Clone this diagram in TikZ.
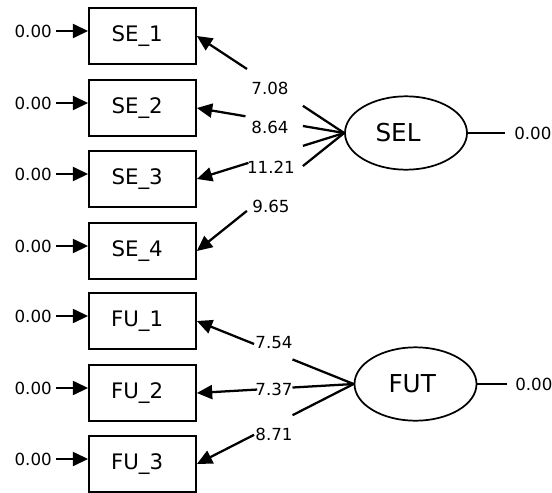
\documentclass[tikz,border=0pt]{standalone}
\usepackage{fontspec}
\setmainfont{DejaVu Sans}
\usetikzlibrary{arrows.meta,shapes.geometric,calc}
\begin{document}
\begin{tikzpicture}[x=0.75pt,y=-0.75pt,
  obs/.style={draw,line width=1.3pt,minimum width=80.25pt,minimum height=42pt,inner sep=0pt,font=\fontsize{16}{18}\selectfont},
  lat/.style={draw,ellipse,line width=1.3pt,minimum width=91.5pt,minimum height=55pt,inner sep=0pt,font=\fontsize{18.5}{21}\selectfont},
  num/.style={inner sep=0pt,font=\fontsize{12.5}{15}\selectfont},
  link/.style={line width=1.7pt},
  arr/.style={link,-{Triangle[length=11.5pt,width=10.5pt]}}]
\useasboundingbox (0,0) rectangle (552,492);
% observed variables
\node[obs] (SE_1) at (142.5,36) {SE\_1\kern8pt};
\node[obs] (SE_2) at (142.5,108) {SE\_2\kern8pt};
\node[obs] (SE_3) at (142.5,179) {SE\_3\kern8pt};
\node[obs] (SE_4) at (142.5,251) {SE\_4\kern8pt};
\node[obs] (FU_1) at (142.5,321) {FU\_1\kern8pt};
\node[obs] (FU_2) at (142.5,393) {FU\_2\kern8pt};
\node[obs] (FU_3) at (142.5,464) {FU\_3\kern8pt};
% latent variables
\node[lat] (SEL) at (406,133) {SEL\kern12pt};
\node[lat] (FUT) at (415.5,384) {FUT\kern5pt};
% error terms
\node[num,anchor=east] (e1) at (52,31) {0.00};
\node[num,anchor=east] (e2) at (52,103) {0.00};
\node[num,anchor=east] (e3) at (52,174) {0.00};
\node[num,anchor=east] (e4) at (52,246) {0.00};
\node[num,anchor=east] (e5) at (52,316) {0.00};
\node[num,anchor=east] (e6) at (52,388) {0.00};
\node[num,anchor=east] (e7) at (52,459) {0.00};
\draw[arr,shorten <=3pt] (e1.east) -- (e1.east -| SE_1.west);
\draw[arr,shorten <=3pt] (e2.east) -- (e2.east -| SE_2.west);
\draw[arr,shorten <=3pt] (e3.east) -- (e3.east -| SE_3.west);
\draw[arr,shorten <=3pt] (e4.east) -- (e4.east -| SE_4.west);
\draw[arr,shorten <=3pt] (e5.east) -- (e5.east -| FU_1.west);
\draw[arr,shorten <=3pt] (e6.east) -- (e6.east -| FU_2.west);
\draw[arr,shorten <=3pt] (e7.east) -- (e7.east -| FU_3.west);
\node[num,anchor=west] (r1) at (514,133) {0.00};
\node[num,anchor=west] (r2) at (515,384) {0.00};
\draw[link,shorten >=7pt] (SEL.east) -- (r1.west);
\draw[link,shorten >=6pt] (FUT.east) -- (r2.west);
% loadings
\node[num] (p1) at (270,88) {7.08};
\node[num] (p2) at (270,127) {8.64};
\node[num] (p3) at (271,167) {11.21};
\node[num] (p4) at (271,206) {9.65};
\node[num] (p5) at (274,343) {7.54};
\node[num] (p6) at (274,389) {7.37};
\node[num] (p7) at (274,434) {8.71};
\draw[link] (SEL.west) -- ($(SEL.west)!.28!(SE_1.east)$);
\draw[arr] ($(SEL.west)!.66!(SE_1.east)$) -- (SE_1.east);
\draw[link] (SEL.west) -- ($(SEL.west)!.28!(SE_2.east)$);
\draw[arr] ($(SEL.west)!.67!(SE_2.east)$) -- (SE_2.east);
\draw[link] (SEL.west) -- ($(SEL.west)!.28!(SE_3.east)$);
\draw[arr] ($(SEL.west)!.65!(SE_3.east)$) -- (SE_3.east);
\draw[link] (SEL.west) -- ($(SEL.west)!.28!(SE_4.east)$);
\draw[arr] ($(SEL.west)!.66!(SE_4.east)$) -- (SE_4.east);
\draw[link] (FUT.west) -- ($(FUT.west)!.39!(FU_1.east)$);
\draw[arr] ($(FUT.west)!.635!(FU_1.east)$) -- (FU_1.east);
\draw[link] (FUT.west) -- ($(FUT.west)!.39!(FU_2.east)$);
\draw[arr] ($(FUT.west)!.615!(FU_2.east)$) -- (FU_2.east);
\draw[link] (FUT.west) -- ($(FUT.west)!.39!(FU_3.east)$);
\draw[arr] ($(FUT.west)!.635!(FU_3.east)$) -- (FU_3.east);
\end{tikzpicture}
\end{document}
